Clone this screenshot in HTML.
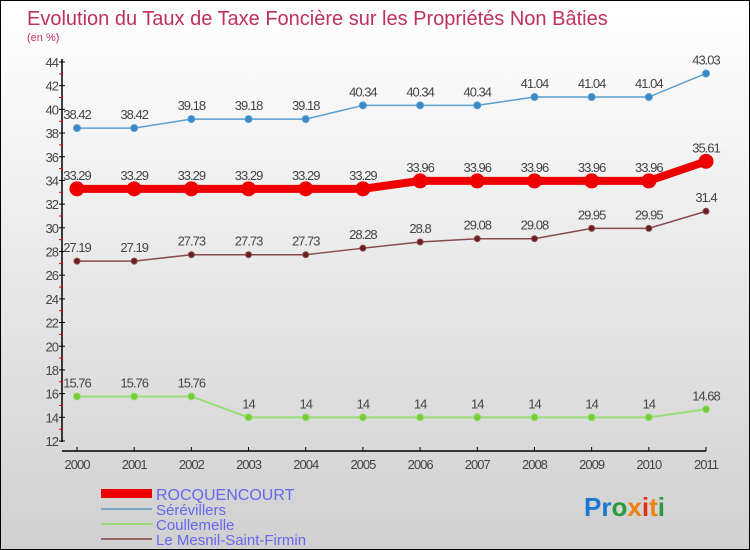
<!DOCTYPE html>
<html><head><meta charset="utf-8"><style>
body{margin:0}
#c{width:750px;height:550px;position:relative;overflow:hidden;box-sizing:border-box;border:1px solid #000;background:linear-gradient(#fff 0%,#f2f2f2 30%,#d0d0d0 100%);font-family:"Liberation Sans",sans-serif}
</style></head><body>
<div id="c">
<svg width="750" height="550" style="position:absolute;left:0;top:0" id="svg">
<text x="26" y="24" font-size="20" fill="#c0305f">Evolution du Taux de Taxe Foncière sur les Propriétés Non Bâties</text>
<text x="26" y="40" font-size="11" fill="#c0305f">(en %)</text>
<g id="axes"></g><g id="series"></g>
<g>
<rect x="100" y="488" width="51" height="9" fill="#e00"/>
<text x="155" y="499" font-size="16" fill="#6666ee">ROCQUENCOURT</text>
<rect x="100" y="507" width="51" height="2" fill="#7aa8c8"/>
<text x="155" y="514" font-size="15" fill="#6666ee">Sérévillers</text>
<rect x="100" y="522" width="51" height="2" fill="#99dd77"/>
<text x="155" y="529" font-size="15" fill="#6666ee">Coullemelle</text>
<rect x="100" y="537" width="51" height="2" fill="#996666"/>
<text x="155" y="544" font-size="15" fill="#6666ee">Le Mesnil-Saint-Firmin</text>
</g>
<text x="583" y="515" font-size="26" font-weight="bold"><tspan fill="#1a78d0">Pr</tspan><tspan fill="#2a9a3a">o</tspan><tspan fill="#f08010">x</tspan><tspan fill="#e03010">i</tspan><tspan fill="#f08010">t</tspan><tspan fill="#2a9a3a">i</tspan></text>
</svg>
</div>
<script>
const years=[2000,2001,2002,2003,2004,2005,2006,2007,2008,2009,2010,2011];
const yTicks=[12,14,16,18,20,22,24,26,28,30,32,34,36,38,40,42,44];
const rocq=[33.29,33.29,33.29,33.29,33.29,33.29,33.96,33.96,33.96,33.96,33.96,35.61];
const serev=[38.42,38.42,39.18,39.18,39.18,40.34,40.34,40.34,41.04,41.04,41.04,43.03];
const coul=[15.76,15.76,15.76,14,14,14,14,14,14,14,14,14.68];
const mesnil=[27.19,27.19,27.73,27.73,27.73,28.28,28.8,29.08,29.08,29.95,29.95,31.4];
const NS="http://www.w3.org/2000/svg";
const X=i=>76+i*(629/11);
const Y=v=>440-(v-12)*(379/32);
function mk(t,a,p){const e=document.createElementNS(NS,t);for(const k in a)e.setAttribute(k,a[k]);p.appendChild(e);return e;}
const ax=document.getElementById('axes'),sg=document.getElementById('series');
let l=mk('line',{x1:61,y1:58,x2:61,y2:441,stroke:'#000','stroke-width':1.5},ax);


l=mk('line',{x1:61,y1:450,x2:705,y2:450,stroke:'#000','stroke-width':1.5},ax);


yTicks.forEach((v,i)=>{
  const y=Y(v);
  mk('line',{x1:58,y1:y,x2:64,y2:y,stroke:'#000'},ax);
  if(i<yTicks.length-1) mk('line',{x1:58,y1:Y(v+1),x2:62,y2:Y(v+1),stroke:'#d00'},ax);
  const t=mk('text',{x:57,y:y+5,'font-size':13,'text-anchor':'end',fill:'#444','letter-spacing':'-1'},ax);
  t.textContent=v;
  
  
});
years.forEach((yr,i)=>{
  mk('line',{x1:X(i),y1:446,x2:X(i),y2:450,stroke:'#000'},ax);
  const t=mk('text',{x:X(i),y:468,'font-size':13,'text-anchor':'middle',fill:'#444','letter-spacing':'-1'},ax);
  t.textContent=yr;
  
  
});
function series(vals,col,w,r,fill,name){
  const g=mk('g',{},sg);
  
  
  const p=mk('polyline',{points:vals.map((v,i)=>X(i)+','+Y(v)).join(' '),fill:'none',stroke:col,'stroke-width':w},g);
  
  
  vals.forEach((v,i)=>{
    const c=mk('circle',{cx:X(i),cy:Y(v),r:r,fill:fill,stroke:col,'stroke-width':1},g);
    
    
    const t=mk('text',{x:X(i),y:Y(v)-9,'font-size':13,'text-anchor':'middle',fill:'#444','letter-spacing':'-1'},g);
    t.textContent=String(v);
    
    
  });
}
series(serev,'#5a9fd0',1.5,3.5,'#3a88c8','serevillers');
series(mesnil,'#8a4a4a',1.5,3,'#6a2020','mesnil');
series(coul,'#99dd77',2,3.5,'#77cc33','coullemelle');
series(rocq,'#ee0000',8,7,'#ee0000','rocquencourt');
</script>
</body></html>
